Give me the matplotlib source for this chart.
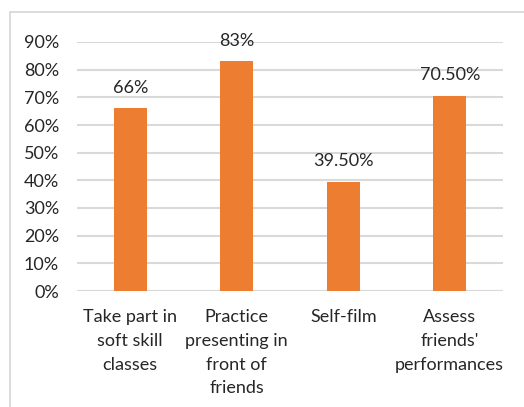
import matplotlib
matplotlib.use("Agg")
import matplotlib.pyplot as plt
from matplotlib.patches import Rectangle
from matplotlib.ticker import PercentFormatter, MultipleLocator

categories = [
    "Take part in\nsoft skill\nclasses",
    "Practice\npresenting in\nfront of\nfriends",
    "Self-film",
    "Assess\nfriends'\nperformances",
]
values = [66, 83, 39.5, 70.5]
value_labels = ["66%", "83%", "39.50%", "70.50%"]

bar_color = "#ED7D31"
grid_color = "#D9D9D9"
text_color = "#262626"

plt.rcParams["font.family"] = ["Lato", "DejaVu Sans"]
plt.rcParams["font.size"] = 13

W, H = 524, 407
fig = plt.figure(figsize=(W / 100, H / 100), dpi=100)

# chart frame
fig.patches.append(Rectangle((10 / W, -0.1), 1.2, 1 - 12 / H + 0.1,
                             transform=fig.transFigure, fill=False,
                             edgecolor=grid_color, linewidth=1.3))

ax = fig.add_axes([77 / W, (H - 291) / H, 426 / W, 249 / H])
x = list(range(len(categories)))
ax.bar(x, values, width=0.31, color=bar_color, zorder=3)
ax.set_xlim(-0.5, len(categories) - 0.5)
ax.set_ylim(0, 90)
ax.yaxis.set_major_locator(MultipleLocator(10))
ax.yaxis.set_major_formatter(PercentFormatter(decimals=0))
ax.grid(axis="y", color=grid_color, linewidth=1.5, zorder=0)
ax.axhline(0, color=grid_color, linewidth=1.5, zorder=1)
for s in ax.spines.values():
    s.set_visible(False)
ax.tick_params(axis="both", length=0, colors=text_color, labelsize=13)
ax.tick_params(axis="y", pad=13)
ax.tick_params(axis="x", pad=13)
ax.set_xticks(x)
ax.set_xticklabels(categories, linespacing=1.6)

for xi, v, lab in zip(x, values, value_labels):
    ax.annotate(lab, (xi, v), xytext=(0, 15), textcoords="offset points",
                ha="center", va="center", color=text_color, fontsize=13,
                clip_on=False)

fig.savefig("out.png", dpi=100)
